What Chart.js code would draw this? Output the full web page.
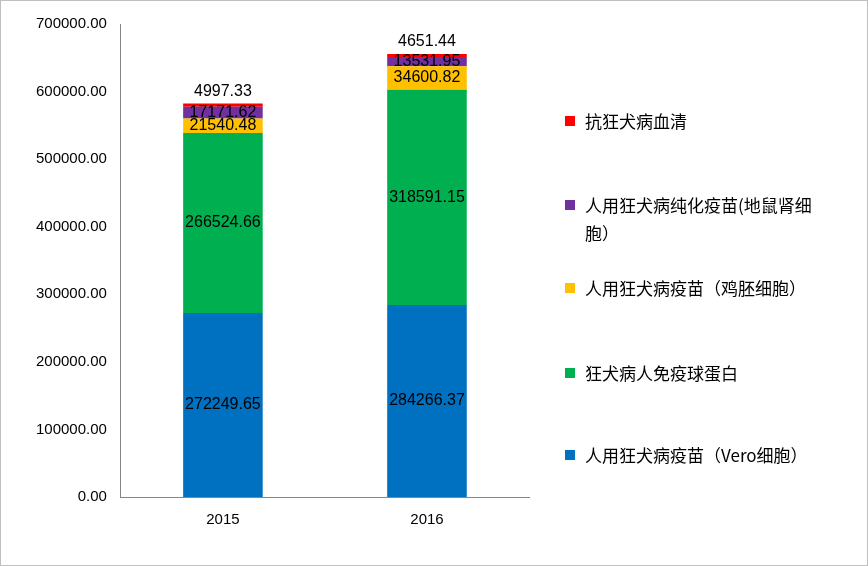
<!DOCTYPE html>
<html><head><meta charset="utf-8">
<script src="https://cdn.jsdelivr.net/npm/chart.js@4"></script>
<style>
body{margin:0;background:#fff;font-family:"Noto Sans CJK SC",sans-serif}
#wrap{position:relative;width:868px;height:566px;box-sizing:border-box;border:1px solid #bfbfbf}
#legend{position:absolute;left:562px;top:0;width:300px;font-size:17px;color:#000}
.it{position:absolute;left:0;display:flex;align-items:flex-start;line-height:28px}
.sw{width:10px;height:10px;margin:9px 10px 0 2px;flex:none}
</style></head><body>
<div id="wrap"><canvas id="c" width="866" height="564"></canvas><div id="legend"></div></div>
<script>
const categories=["2015","2016"];
const seriesNames=["人用狂犬病疫苗（Vero细胞）","狂犬病人免疫球蛋白","人用狂犬病疫苗（鸡胚细胞）","人用狂犬病纯化疫苗(地鼠肾细胞）","抗狂犬病血清"];
const vero=[272249.65,284266.37];
const immuno=[266524.66,318591.15];
const chick=[21540.48,34600.82];
const hamster=[17171.62,13531.95];
const serum=[4997.33,4651.44];
const yTicks=[0,100000,200000,300000,400000,500000,600000,700000];
const colors=["#0070c0","#00b050","#ffc000","#7030a0","#ff0000"];
const values=[vero,immuno,chick,hamster,serum];
const legendTops=[440,358,273,190,106];
const lg=document.getElementById('legend');
seriesNames.forEach((n,i)=>{const d=document.createElement('div');d.className='it';d.style.top=legendTops[i]+'px';d.style.width=i==3?'262px':'300px';
d.innerHTML='<span class="sw" style="background:'+colors[i]+'"></span><span>'+n+'</span>';lg.appendChild(d);});
const labelPlugin={id:'lbl',afterDatasetsDraw(ch){const ctx=ch.ctx;ctx.save();ctx.font='16px "Liberation Sans"';ctx.fillStyle='#000';ctx.textAlign='center';ctx.textBaseline='middle';
ch.data.datasets.forEach((ds,di)=>{ch.getDatasetMeta(di).data.forEach((b,j)=>{let y=(b.y+b.base)/2;if(di==4)y=b.y-12;ctx.fillText(ds.data[j].toFixed(2),b.x,y);});});ctx.restore();}};
new Chart(document.getElementById('c'),{type:'bar',
data:{labels:categories,datasets:values.map((v,i)=>({label:seriesNames[i],data:v,backgroundColor:colors[i],barPercentage:0.39,categoryPercentage:1}))},
options:{responsive:false,animation:false,layout:{padding:{left:29,right:338,top:23,bottom:22}},
plugins:{legend:{display:false},tooltip:{enabled:false}},
scales:{x:{stacked:true,grid:{display:false,drawTicks:false},border:{color:'#868686'},ticks:{color:'#000',font:{size:15,family:'Liberation Sans'},padding:14}},
y:{stacked:true,min:0,max:700000,afterBuildTicks(a){a.ticks=yTicks.map(v=>({value:v}));},grid:{display:false},border:{color:'#868686'},
ticks:{color:'#000',font:{size:15,family:'Liberation Sans'},padding:6,callback:v=>Number(v).toFixed(2)}}}},
plugins:[labelPlugin]});
</script></body></html>
